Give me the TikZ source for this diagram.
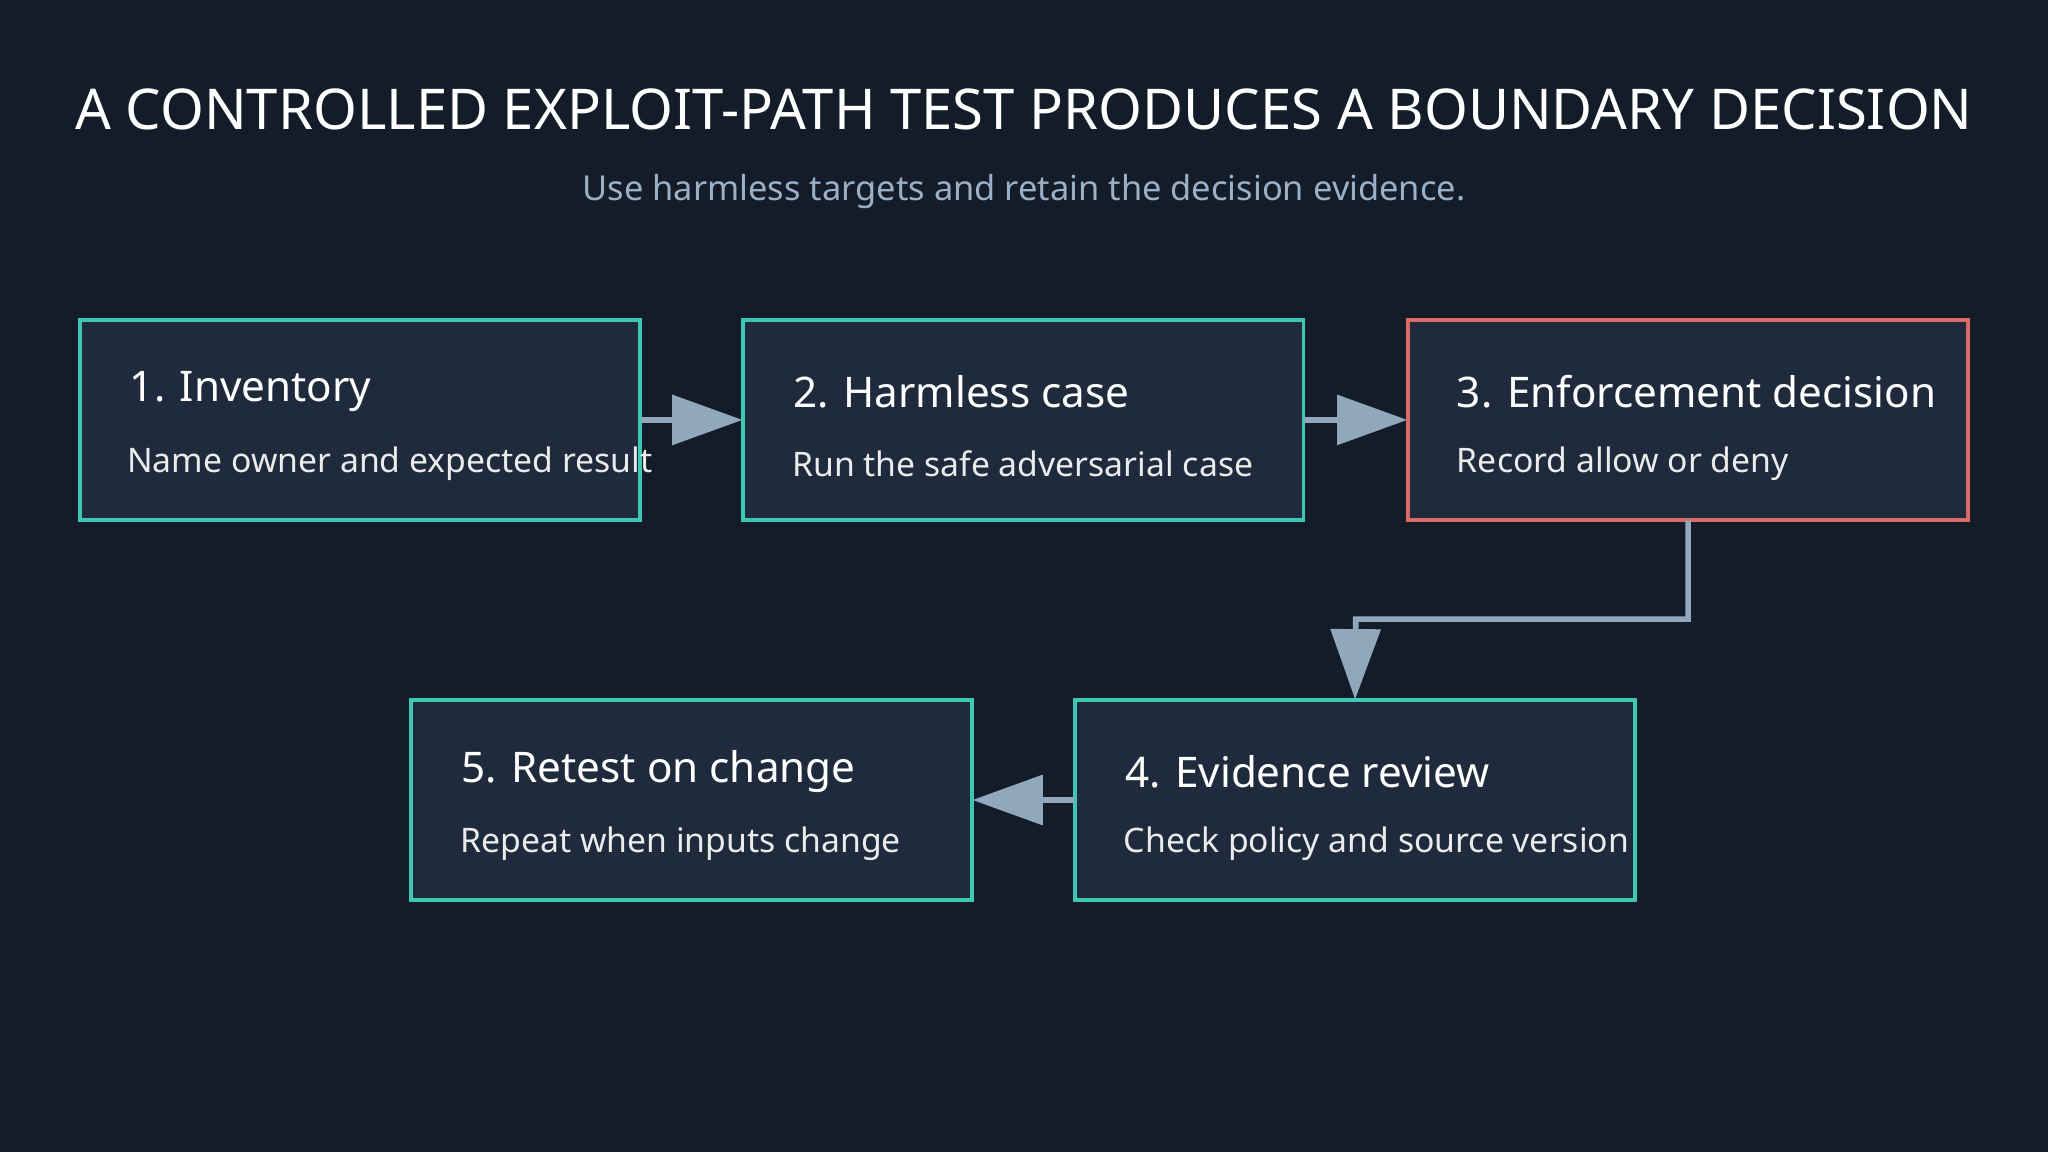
\documentclass[tikz,border=0pt]{standalone}
\usepackage{fontspec}
\setmainfont{Noto Sans}
\usetikzlibrary{arrows.meta}
\definecolor{bg}{HTML}{131C28}
\definecolor{boxf}{HTML}{1F2B3C}
\definecolor{teal}{HTML}{3CC8B4}
\definecolor{redb}{HTML}{D96A68}
\definecolor{arr}{HTML}{8FA8BC}
\definecolor{sub}{HTML}{9AAFC8}
\begin{document}
\begin{tikzpicture}[x=0.01306cm,y=-0.01306cm,
  box/.style={draw=teal,fill=boxf,line width=1.1pt,minimum width=429\pgflinewidth,inner sep=0pt},
  ttl/.style={anchor=west,text=white,font=\fontsize{12pt}{14pt}\selectfont\bfseries},
  bdy/.style={anchor=west,text=white!92!black,font=\fontsize{9.6pt}{12pt}\selectfont},
  con/.style={draw=arr,line width=1.6pt,-{Triangle[length=20pt,width=14pt]}}]
\fill[bg] (0,0) rectangle (1568,882);
\useasboundingbox (0,0) rectangle (1568,882);
\node[text=white,font=\fontsize{16pt}{19pt}\selectfont\bfseries] (title) at (784,84) {A CONTROLLED EXPLOIT-PATH TEST PRODUCES A BOUNDARY DECISION};
\node[text=sub,font=\fontsize{9.8pt}{12pt}\selectfont] (subt) at (784,147) {Use harmless targets and retain the decision evidence.};
\foreach \n/\x/\y/\c in {b1/61/245/teal,b2/569/245/teal,b3/1078/245/redb,b4/823/536/teal,b5/315/536/teal}{
  \draw[draw=\c,fill=boxf,line width=1.1pt] (\x,\y) rectangle ++(429,153);
  \path (\x,\y) rectangle ++(429,153) coordinate (\n-se);
  \coordinate (\n-nw) at (\x,\y);
}
\path (b1-nw) -- (b1-se) node[midway,inner sep=0pt,minimum width=429*0.01306cm,minimum height=153*0.01306cm] (b1) {};
\path (b2-nw) -- (b2-se) node[midway,inner sep=0pt,minimum width=429*0.01306cm,minimum height=153*0.01306cm] (b2) {};
\path (b3-nw) -- (b3-se) node[midway,inner sep=0pt,minimum width=429*0.01306cm,minimum height=153*0.01306cm] (b3) {};
\path (b4-nw) -- (b4-se) node[midway,inner sep=0pt,minimum width=429*0.01306cm,minimum height=153*0.01306cm] (b4) {};
\path (b5-nw) -- (b5-se) node[midway,inner sep=0pt,minimum width=429*0.01306cm,minimum height=153*0.01306cm] (b5) {};
\node[ttl] (t1) at (90,300) {1. Inventory};
\node[bdy] (d1) at (88,355) {Name owner and expected result};
\node[ttl] (t2) at (598,300) {2. Harmless case};
\node[bdy] (d2) at (597,355) {Run the safe adversarial case};
\node[ttl] (t3) at (1106,300) {3. Enforcement decision};
\node[bdy] (d3) at (1106,355) {Record allow or deny};
\node[ttl] (t4) at (852,591) {4. Evidence review};
\node[bdy] (d4) at (851,646) {Check policy and source version};
\node[ttl] (t5) at (344,591) {5. Retest on change};
\node[bdy] (d5) at (343,646) {Repeat when inputs change};
\draw[con] (b1.east) -- (b2.west);
\draw[con] (b2.east) -- (b3.west);
\draw[con] (b3.south) |- (1038,474) -- (b4.north);
\draw[con] (b4.west) -- (b5.east);
\end{tikzpicture}
\end{document}
